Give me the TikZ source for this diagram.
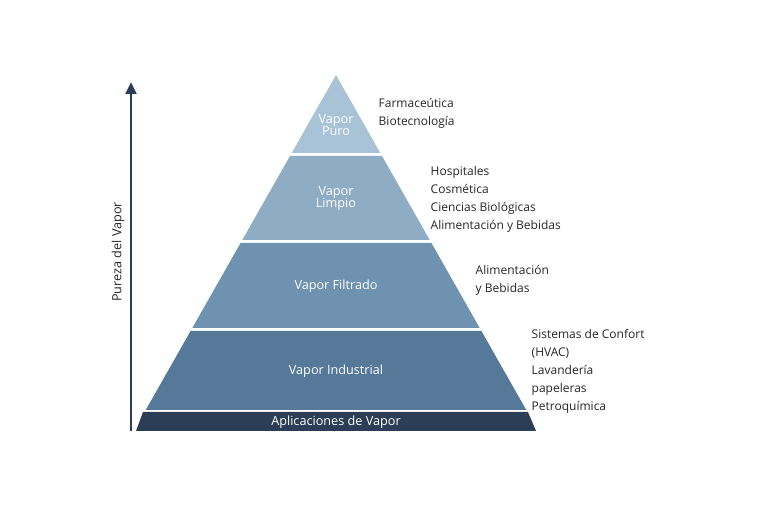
\documentclass[tikz,border=0pt]{standalone}
\usepackage{fontspec}
\setmainfont{Open Sans}
\usetikzlibrary{arrows.meta}
\definecolor{navy}{HTML}{2C3E55}
\definecolor{lvlA}{HTML}{A9C3D6}
\definecolor{lvlB}{HTML}{8EADC4}
\definecolor{lvlC}{HTML}{6E92B0}
\definecolor{lvlD}{HTML}{56799A}
\tikzset{
  band/.style={draw=none},
  bandlabel/.style={text=white, font=\fontsize{9.5}{11}\selectfont, align=center},
  applabel/.style={anchor=west, align=left, font=\fontsize{9}{13.5}\selectfont, text=black!85}
}
\begin{document}
\begin{tikzpicture}[x=0.75pt, y=-0.75pt]
  \useasboundingbox (0,0) rectangle (768,505);
  % Settings
  \def\apx{336} % apex x
  \def\sl{0.568} % half-width per pixel of height

  % Pyramid bands: top, bottom, colour
  \foreach \t/\b/\c in {75/153/lvlA, 156/240/lvlB, 243/328/lvlC, 331/410/lvlD} {
      \fill[band, \c] ({\apx-\sl*(\t-75)}, \t) -- ({\apx+\sl*(\t-75)}, \t)
        -- ({\apx+\sl*(\b-75)}, \b) -- ({\apx-\sl*(\b-75)}, \b) -- cycle;
  }
  % Base bar
  \fill[navy] (143, 412) -- (528, 412) -- (536, 431) -- (136, 431) -- cycle;

  % Band labels
  \node[bandlabel] (puro) at (336, 125) {Vapor\\[-2pt]Puro};
  \node[bandlabel] (limpio) at (336, 199) {Vapor\\[-2pt]Limpio};
  \node[bandlabel] (filtrado) at (336, 286) {Vapor Filtrado};
  \node[bandlabel] (industrial) at (336, 371) {Vapor Industrial};
  \node[bandlabel] (base) at (336, 422) {Aplicaciones de Vapor};

  % Applications
  \node[applabel] (appA) at (374, 113) {Farmaceútica\\Biotecnología};
  \node[applabel] (appB) at (426, 199) {Hospitales\\Cosmética\\Ciencias Biológicas\\Alimentación y Bebidas};
  \node[applabel] (appC) at (471, 280) {Alimentación\\y Bebidas};
  \node[applabel] (appD) at (527, 371) {Sistemas de Confort\\(HVAC)\\Lavandería\\papeleras\\Petroquímica};

  % Purity axis
  \coordinate (axA) at (131, 431);
  \coordinate (axB) at (131, 82);
  \draw[navy, line width=2.2pt, -{Triangle[length=9pt, width=8pt]}] (axA) -- (axB);
  \node[rotate=90, font=\fontsize{9.5}{11}\selectfont, text=black!85] (axlabel) at (118, 252) {Pureza del Vapor};
\end{tikzpicture}
\end{document}
